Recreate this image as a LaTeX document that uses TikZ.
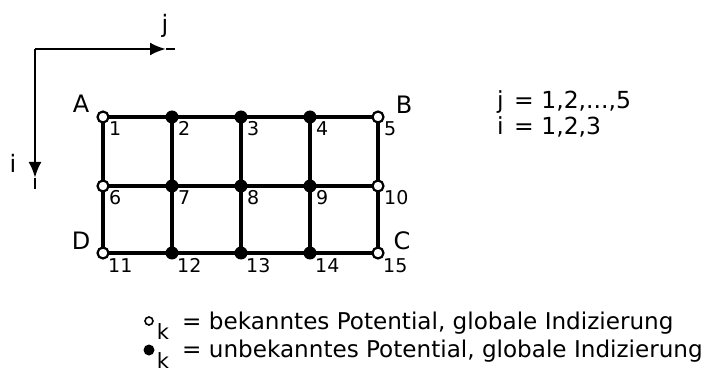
\documentclass[tikz,border=0pt]{standalone}
\usepackage{fontspec}
\setmainfont{DejaVu Sans}
\usetikzlibrary{arrows.meta}
\begin{document}
\begin{tikzpicture}[x=1pt,y=-1pt,
  known/.style={circle,draw,line width=2.2pt,fill=white,inner sep=0pt,minimum size=11pt},
  unknown/.style={circle,fill=black,inner sep=0pt,minimum size=13pt},
  gridline/.style={line width=3.2pt},
  axis/.style={line width=2.6pt},
  axtip/.style={line width=2.6pt,-{Latex[length=16pt,width=13pt]}},
  num/.style={font=\fontsize{19}{19}\selectfont,inner sep=0pt,anchor=north west},
  corner/.style={font=\fontsize{24}{24}\selectfont,inner sep=0pt},
  txt/.style={font=\fontsize{23.5}{23.5}\selectfont,inner sep=0pt,anchor=base west},
  legtxt/.style={font=\fontsize{23.1}{23.1}\selectfont,inner sep=0pt,anchor=base west}]
\useasboundingbox (0,0) rectangle (712,390);
% axes
\coordinate (O) at (35,49);
\coordinate (jtip) at (166,49);
\coordinate (jend) at (175,49);
\coordinate (itip) at (35,178);
\coordinate (iend) at (35,189);
\draw[axtip] (O) -- (jtip);
\draw[axis] (jtip) -- (jend);
\draw[axtip] (O) -- (itip);
\draw[axis] (itip) -- (iend);
\node[corner] (jl) at (165,26) {j};
\node[corner] (il) at (13,163) {i};
% grid nodes
\foreach \c [count=\n from 1] in {103,172,241,310,378}{
  \coordinate (r1c\n) at (\c,117);
  \coordinate (r2c\n) at (\c,186);
  \coordinate (r3c\n) at (\c,253);
}
\foreach \r in {1,2,3}{
  \draw[gridline] (r\r c1) -- (r\r c2) -- (r\r c3) -- (r\r c4) -- (r\r c5);
}
\foreach \c in {1,...,5}{
  \draw[gridline] (r1c\c) -- (r2c\c) -- (r3c\c);
}
\foreach \r in {1,2,3}{
  \node[known] (k\r a) at (r\r c1) {};
  \node[known] (k\r b) at (r\r c5) {};
  \foreach \c in {2,3,4}{ \node[unknown] (u\r\c) at (r\r c\c) {}; }
}
% numbers
\foreach \c [count=\n from 1] in {103,172,241,310,378}{
  \pgfmathtruncatemacro{\a}{\n}
  \pgfmathtruncatemacro{\b}{\n+5}
  \pgfmathtruncatemacro{\d}{\n+10}
  \node[num] (n\a) at (\c+6,121) {\a};
  \node[num] (n\b) at (\c+6,190) {\b};
  \node[num] (n\d) at (\c+5,258) {\d};
}
\node[corner] (A) at (81,104) {A};
\node[corner] (B) at (404,105) {B};
\node[corner] (C) at (402,241) {C};
\node[corner] (D) at (81,241) {D};
% ranges
\node[txt] (jv) at (497,109) {j};
\node[txt] (jr) at (514,109) {= 1,2,...,5};
\node[txt] (iv) at (497,135) {i};
\node[txt] (ir) at (514,135) {= 1,2,3};
% legend
\node[known,minimum size=8pt,line width=1.6pt] (lk) at (149,321) {};
\node[font=\fontsize{21}{21}\selectfont,inner sep=0pt] (lks) at (163,332) {k};
\node[legtxt] (l1) at (182,329) {= bekanntes Potential, globale Indizierung};
\node[unknown,minimum size=11pt] (lu) at (149,350) {};
\node[font=\fontsize{21}{21}\selectfont,inner sep=0pt] (lus) at (163,361) {k};
\node[legtxt] (l2) at (182,357) {= unbekanntes Potential, globale Indizierung};
\end{tikzpicture}
\end{document}
